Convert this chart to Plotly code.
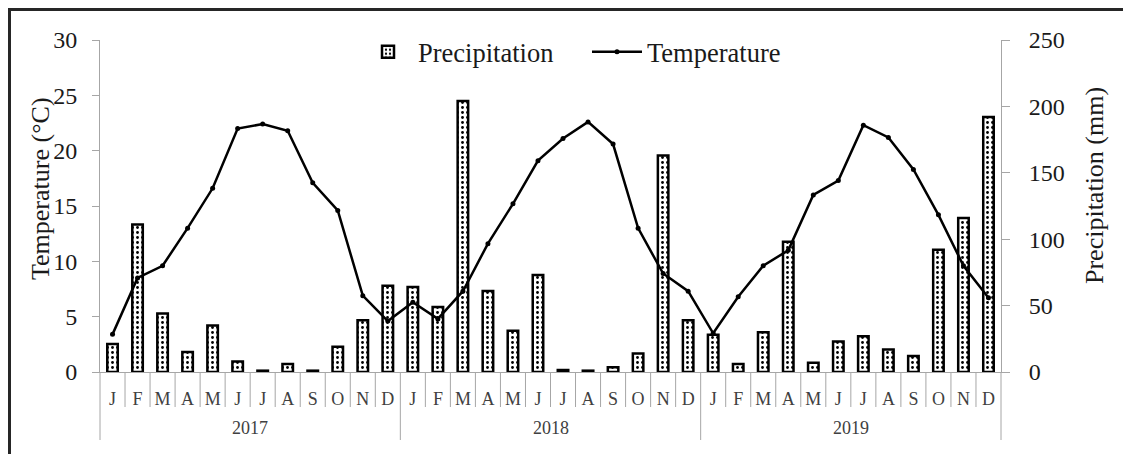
import plotly.graph_objects as go

# Monthly climate record, 2017-2019
years = ["2017", "2018", "2019"]
month_letters = ["J", "F", "M", "A", "M", "J", "J", "A", "S", "O", "N", "D"]

temperature = [3.4, 8.5, 9.6, 13.0, 16.6, 22.0, 22.4, 21.8, 17.1, 14.6, 6.9, 4.6,
               6.3, 4.8, 7.3, 11.6, 15.2, 19.1, 21.1, 22.6, 20.6, 13.0, 8.9, 7.3,
               3.5, 6.8, 9.6, 11.0, 16.0, 17.3, 22.3, 21.2, 18.3, 14.2, 9.6, 6.7]

precipitation = [21, 111, 44, 15, 35, 8, 1, 6, 1, 19, 39, 65,
                 64, 49, 204, 61, 31, 73, 1.5, 1, 3.5, 14, 163, 39,
                 28, 6, 30, 98, 7, 23, 27, 17, 12, 92, 116, 192]

# unique category keys per month, shown as single letters on the axis
keys = [f"{y}-{m + 1:02d}" for y in years for m in range(12)]
tick_text = [month_letters[m] for _ in years for m in range(12)]

FONT = "Liberation Serif"
AXIS_GREY = "#a6a6a6"
TEXT = "#1a1a1a"
W, H = 1123, 454
ML, MR, MT, MB = 100, 122, 40, 82
PW, PH = W - ML - MR, H - MT - MB


def px_x(px):
    return (px - ML) / PW


def px_y(py):
    return (H - MB - py) / PH


fig = go.Figure()

fig.add_trace(go.Bar(
    x=keys, y=precipitation, name="Precipitation", yaxis="y",
    width=0.42,
    marker=dict(
        color="white",
        line=dict(color="black", width=2.5),
        pattern=dict(shape=".", fgcolor="black", bgcolor="white",
                     size=5, solidity=0.25, fillmode="replace"),
    ),
))

fig.add_trace(go.Scatter(
    x=keys, y=temperature, name="Temperature", yaxis="y2",
    mode="lines+markers",
    line=dict(color="black", width=2.5),
    marker=dict(color="black", size=5),
))

shapes = []
# month separators below the axis, longer ones between years
for i in range(1, len(keys)):
    long = i % 12 == 0
    shapes.append(dict(type="line", xref="x", yref="paper",
                       x0=i - 0.5, x1=i - 0.5, y0=0,
                       y1=px_y(440) if long else px_y(407),
                       line=dict(color=AXIS_GREY, width=1)))
# axis lines continued down past the month row
for xp in (0, 1):
    shapes.append(dict(type="line", xref="paper", yref="paper",
                       x0=xp, x1=xp, y0=0, y1=px_y(440),
                       line=dict(color=AXIS_GREY, width=1)))
# frame around the figure
shapes.append(dict(type="rect", xref="paper", yref="paper",
                   x0=px_x(9.5), x1=px_x(1140), y0=px_y(470), y1=px_y(9.5),
                   line=dict(color="#262626", width=3)))

annotations = []
for k, y in enumerate(years):
    annotations.append(dict(xref="x", yref="paper", x=k * 12 + 5.5, y=px_y(428),
                            text=y, showarrow=False, yanchor="middle",
                            font=dict(family=FONT, size=18, color="#404040")))
# axis titles
annotations.append(dict(xref="paper", yref="paper", x=px_x(40), y=px_y(188),
                        text="Temperature (°C)", textangle=-90, showarrow=False,
                        xanchor="center", yanchor="middle",
                        font=dict(family=FONT, size=26, color=TEXT)))
annotations.append(dict(xref="paper", yref="paper", x=px_x(1094), y=px_y(186),
                        text="Precipitation (mm)", textangle=-90, showarrow=False,
                        xanchor="center", yanchor="middle",
                        font=dict(family=FONT, size=26, color=TEXT)))

fig.update_layout(
    width=W, height=H,
    margin=dict(l=ML, r=MR, t=MT, b=MB, autoexpand=False),
    paper_bgcolor="white", plot_bgcolor="white",
    font=dict(family=FONT, color=TEXT),
    showlegend=True,
    legend=dict(orientation="h", x=px_x(587), xanchor="center", y=px_y(52),
                yanchor="middle", font=dict(size=26.5, family=FONT, color=TEXT),
                bgcolor="rgba(0,0,0,0)", itemwidth=50, traceorder="normal",
                entrywidth=164, entrywidthmode="pixels"),
    bargap=0.5,
    xaxis=dict(type="category", categoryorder="array", categoryarray=keys,
               range=[-0.5, len(keys) - 0.5],
               tickmode="array", tickvals=keys, ticktext=tick_text,
               ticks="", showgrid=False, zeroline=False,
               showline=True, linecolor=AXIS_GREY, linewidth=1,
               tickfont=dict(family=FONT, size=18, color="#404040"),
               ticklabelstandoff=10),
    yaxis=dict(side="right", range=[0, 250], dtick=50, showgrid=False,
               zeroline=False, showline=True, linecolor=AXIS_GREY, linewidth=1,
               ticks="outside", ticklen=8, tickcolor=AXIS_GREY,
               tickfont=dict(family=FONT, size=24, color=TEXT),
               ticklabelstandoff=14),
    yaxis2=dict(side="left", overlaying="y", range=[0, 30], dtick=5,
                showgrid=False, zeroline=False, showline=True,
                linecolor=AXIS_GREY, linewidth=1,
                ticks="outside", ticklen=7, tickcolor=AXIS_GREY,
                tickfont=dict(family=FONT, size=24, color=TEXT),
                ticklabelstandoff=10),
    shapes=shapes,
    annotations=annotations,
)

fig.write_html("out.html")
